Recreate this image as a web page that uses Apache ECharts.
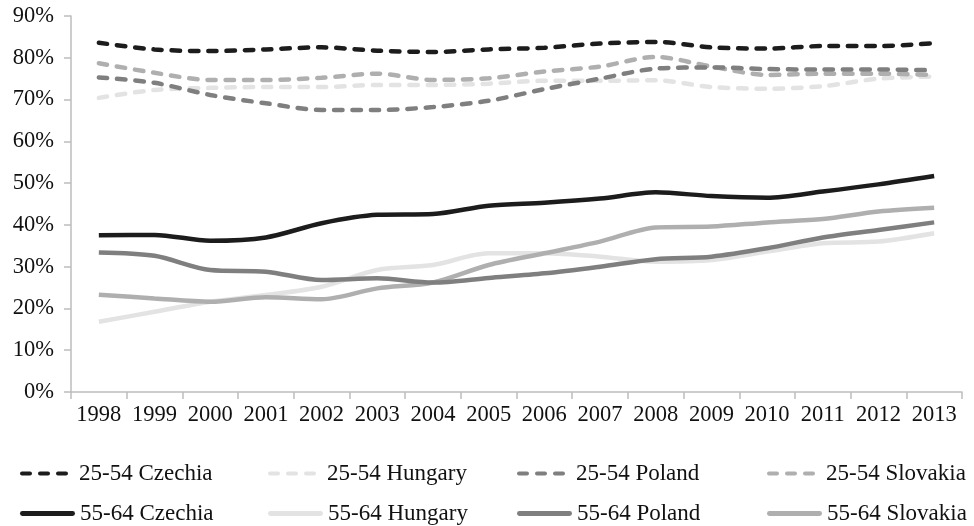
<!DOCTYPE html>
<html>
<head>
<meta charset="utf-8">
<script src="https://cdn.jsdelivr.net/npm/echarts@6/dist/echarts.min.js"></script>
<style>
html,body{margin:0;padding:0;background:#fff;}
#chart{width:974px;height:526px;}
</style>
</head>
<body>
<div id="chart"></div>
<script>
const years = ['1998','1999','2000','2001','2002','2003','2004','2005','2006','2007','2008','2009','2010','2011','2012','2013'];
const yTicks = [0,10,20,30,40,50,60,70,80,90];

const cz2554 = [83.6,82.0,81.6,82.0,82.5,81.7,81.4,82.0,82.4,83.4,83.8,82.5,82.2,82.8,82.8,83.5];
const hu2554 = [70.4,72.3,72.8,73.0,73.0,73.5,73.5,73.8,74.5,74.5,74.6,73.0,72.6,73.2,75.0,75.5];
const pl2554 = [75.3,74.0,71.1,69.1,67.5,67.5,68.2,69.7,72.5,75.0,77.4,77.7,77.3,77.2,77.2,77.0];
const sk2554 = [78.7,76.4,74.7,74.7,75.2,76.2,74.7,75.1,76.7,77.9,80.2,77.9,75.9,76.2,76.2,75.9];

const cz5564 = [37.5,37.6,36.2,37.0,40.4,42.4,42.6,44.6,45.3,46.3,47.8,46.9,46.5,48.0,49.7,51.7];
const hu5564 = [16.8,19.2,21.6,23.2,25.2,29.2,30.4,33.2,33.2,32.4,31.2,31.6,33.6,35.6,36.0,38.0];
const pl5564 = [33.4,32.6,29.2,28.8,26.8,27.2,26.2,27.3,28.4,30.0,31.8,32.4,34.4,37.0,38.8,40.6];
const sk5564 = [23.3,22.4,21.6,22.7,22.2,24.8,26.2,30.4,33.2,36.0,39.4,39.6,40.6,41.4,43.2,44.1];

const colors = {cz:'#1c1c1c', hu:'#e3e3e3', pl:'#7f7f7f', sk:'#afafaf'};
const font = 'Liberation Serif';

function mk(name, data, color, dashed){
  return {
    name: name, type: 'line', data: data, smooth: 0.3,
    symbol: 'none', showSymbol: false,
    lineStyle: {color: color, width: 4.5, type: dashed ? [8.5,9.8] : 'solid', cap: dashed ? 'round' : 'butt'},
    itemStyle: {color: color},
    emphasis: {disabled: true}
  };
}

const series = [
  mk('25-54 Czechia', cz2554, colors.cz, true),
  mk('25-54 Hungary', hu2554, colors.hu, true),
  mk('25-54 Poland', pl2554, colors.pl, true),
  mk('25-54 Slovakia', sk2554, colors.sk, true),
  mk('55-64 Czechia', cz5564, colors.cz, false),
  mk('55-64 Hungary', hu5564, colors.hu, false),
  mk('55-64 Poland', pl5564, colors.pl, false),
  mk('55-64 Slovakia', sk5564, colors.sk, false)
];
const order = [1,5,3,7,2,6,0,4];
const orderedSeries = order.map(i => series[i]);

const dashIcon = 'path://M2,0h8a2,2 0 0 1 0,4h-8a2,2 0 0 1 0,-4z M20,0h8a2,2 0 0 1 0,4h-8a2,2 0 0 1 0,-4z M38,0h8a2,2 0 0 1 0,4h-8a2,2 0 0 1 0,-4z';
const solidIcon = 'path://M2,0h52a2,2 0 0 1 0,5h-52a2,2 0 0 1 0,-5z';

function leg(left, top, name, dashed){
  return {
    left: left, top: top, orient: 'horizontal',
    itemWidth: dashed ? 48 : 55, itemHeight: dashed ? 5 : 5,
    itemGap: 0,
    data: [{name: name, icon: dashed ? dashIcon : solidIcon}],
    textStyle: {fontFamily: font, fontSize: 23, color: '#111', padding: [0,0,0, dashed ? 6 : 0]},
    selectedMode: false, padding: 0
  };
}

const cols = [20, 268, 517, 767];
const legends = [];
['Czechia','Hungary','Poland','Slovakia'].forEach((c, i) => {
  legends.push(leg(cols[i], 462, '25-54 ' + c, true));
  legends.push(leg(cols[i], 502, '55-64 ' + c, false));
});

const chart = echarts.init(document.getElementById('chart'));
chart.setOption({
  animation: false,
  backgroundColor: '#fff',
  grid: {left: 71, right: 12, top: 16, bottom: 134},
  xAxis: {
    type: 'category', data: years, boundaryGap: true,
    axisLine: {lineStyle: {color: '#bdbdbd', width: 1.5}},
    axisTick: {show: true, length: 7, lineStyle: {color: '#bdbdbd', width: 1.5}},
    axisLabel: {fontFamily: font, fontSize: 22.5, color: '#111', margin: 12, interval: 0}
  },
  yAxis: {
    type: 'value', min: 0, max: 90, interval: 10,
    axisLine: {show: true, lineStyle: {color: '#bdbdbd', width: 1.5}},
    axisTick: {show: true, length: 7, lineStyle: {color: '#bdbdbd', width: 1.5}},
    splitLine: {show: false},
    axisLabel: {fontFamily: font, fontSize: 22.5, color: '#111', margin: 17,
      formatter: v => yTicks.includes(v) ? v + '%' : ''}
  },
  legend: legends,
  series: orderedSeries
});
</script>
</body>
</html>
